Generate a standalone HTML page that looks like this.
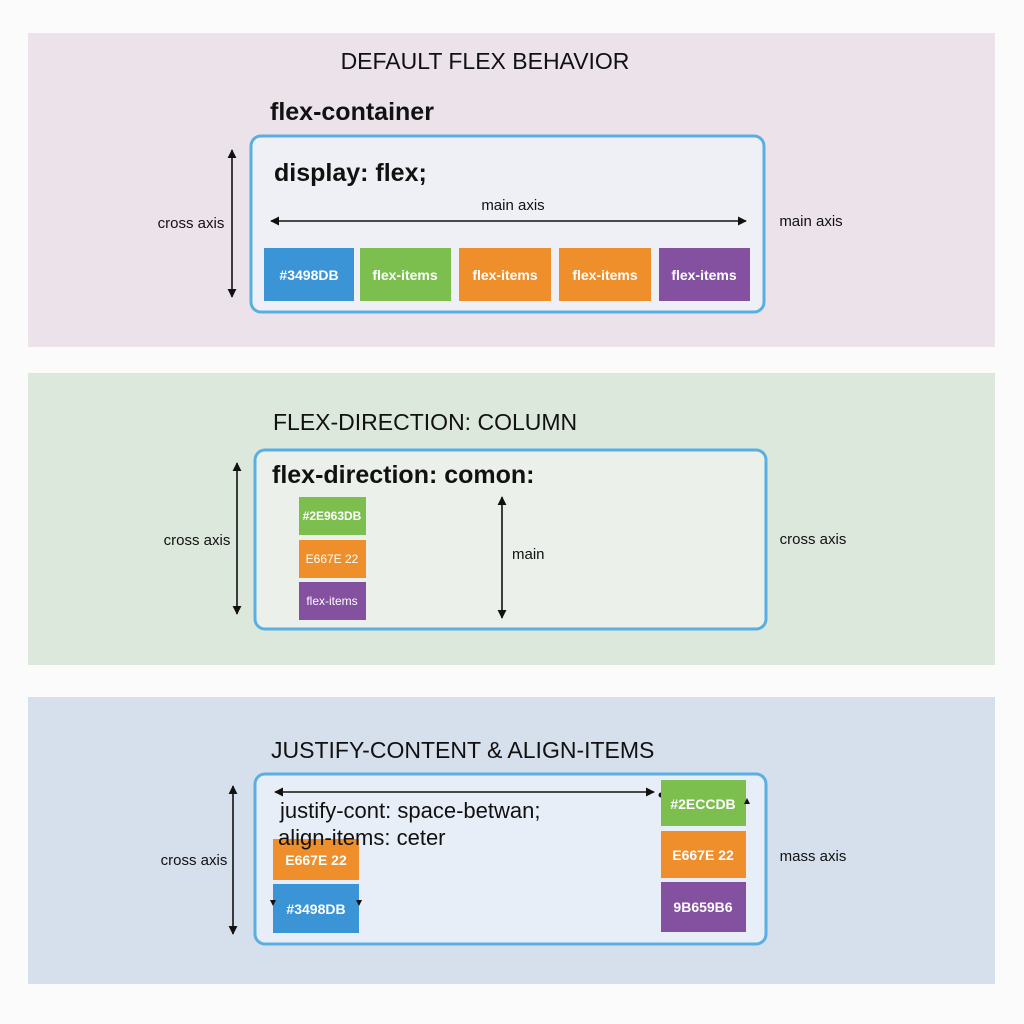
<!DOCTYPE html>
<html><head><meta charset="utf-8"><style>
html,body{margin:0;padding:0;background:#fbfbfb;}
svg{display:block;font-family:"Liberation Sans","DejaVu Sans",sans-serif;}
</style></head><body>
<svg width="1024" height="1024" viewBox="0 0 1024 1024" xmlns="http://www.w3.org/2000/svg">
<defs>
<marker id="ah" viewBox="0 0 10 10" refX="9" refY="5" markerWidth="9" markerHeight="9" orient="auto-start-reverse" markerUnits="userSpaceOnUse"><path d="M0,0 L10,5 L0,10 z" fill="#111"/></marker>
</defs>
<rect width="1024" height="1024" fill="#fbfbfb"/>
<!-- panel 1 -->
<rect x="28" y="33" width="967" height="314" fill="#ebe2ea"/>
<text x="485" y="69" font-size="23" text-anchor="middle" fill="#111">DEFAULT FLEX BEHAVIOR</text>
<text x="270" y="120" font-size="25" font-weight="bold" fill="#111">flex-container</text>
<rect x="251" y="136" width="513" height="176" rx="10" fill="#eef0f5" stroke="#5aafe2" stroke-width="3"/>
<text x="274" y="181" font-size="25" font-weight="bold" fill="#111">display: flex;</text>
<line x1="232" y1="150" x2="232" y2="297" stroke="#111" stroke-width="1.6" marker-start="url(#ah)" marker-end="url(#ah)"/>
<text x="191" y="228" font-size="15" text-anchor="middle" fill="#111">cross axis</text>
<line x1="271" y1="221" x2="746" y2="221" stroke="#111" stroke-width="1.6" marker-start="url(#ah)" marker-end="url(#ah)"/>
<text x="513" y="210" font-size="15" text-anchor="middle" fill="#111">main axis</text>
<text x="811" y="226" font-size="15" text-anchor="middle" fill="#111">main axis</text>
<rect x="264" y="248" width="90" height="53" fill="#3a94d6"/>
<rect x="360" y="248" width="91" height="53" fill="#7dbf4f"/>
<rect x="459" y="248" width="92" height="53" fill="#ef8f2b"/>
<rect x="559" y="248" width="92" height="53" fill="#ef8f2b"/>
<rect x="659" y="248" width="91" height="53" fill="#8451a1"/>
<g font-size="14" font-weight="bold" fill="#fff" text-anchor="middle">
<text x="309" y="280">#3498DB</text><text x="405" y="280">flex-items</text><text x="505" y="280">flex-items</text><text x="605" y="280">flex-items</text><text x="704" y="280">flex-items</text>
</g>
<!-- panel 2 -->
<rect x="28" y="373" width="967" height="292" fill="#dde8dc"/>
<text x="273" y="430" font-size="23" fill="#111">FLEX-DIRECTION: COLUMN</text>
<rect x="255" y="450" width="511" height="179" rx="10" fill="#ebf0eb" stroke="#5aafe2" stroke-width="3"/>
<text x="272" y="483" font-size="25" font-weight="bold" fill="#111">flex-direction: comon:</text>
<line x1="237" y1="463" x2="237" y2="614" stroke="#111" stroke-width="1.6" marker-start="url(#ah)" marker-end="url(#ah)"/>
<text x="197" y="545" font-size="15" text-anchor="middle" fill="#111">cross axis</text>
<line x1="502" y1="497" x2="502" y2="618" stroke="#111" stroke-width="1.6" marker-start="url(#ah)" marker-end="url(#ah)"/>
<text x="512" y="559" font-size="15" fill="#111">main</text>
<text x="813" y="544" font-size="15" text-anchor="middle" fill="#111">cross axis</text>
<rect x="299" y="497" width="67" height="38" fill="#7dbf4f"/>
<rect x="299" y="540" width="67" height="38" fill="#ef8f2b"/>
<rect x="299" y="582" width="67" height="38" fill="#8451a1"/>
<g font-size="12" fill="#fff" text-anchor="middle">
<text x="332" y="520" font-weight="bold">#2E963DB</text><text x="332" y="563">E667E 22</text><text x="332" y="605">flex-items</text>
</g>
<!-- panel 3 -->
<rect x="28" y="697" width="967" height="287" fill="#d6dfec"/>
<text x="271" y="758" font-size="23" fill="#111">JUSTIFY-CONTENT &amp; ALIGN-ITEMS</text>
<rect x="255" y="774" width="511" height="170" rx="10" fill="#e8eef7" stroke="#5aafe2" stroke-width="3"/>
<line x1="233" y1="786" x2="233" y2="934" stroke="#111" stroke-width="1.6" marker-start="url(#ah)" marker-end="url(#ah)"/>
<text x="194" y="865" font-size="15" text-anchor="middle" fill="#111">cross axis</text>
<text x="813" y="861" font-size="15" text-anchor="middle" fill="#111">mass axis</text>
<line x1="275" y1="792" x2="654" y2="792" stroke="#111" stroke-width="1.6" marker-start="url(#ah)" marker-end="url(#ah)"/>
<circle cx="661" cy="795" r="2.5" fill="#111"/>
<rect x="273" y="839" width="86" height="41" fill="#ef8f2b"/>
<rect x="273" y="884" width="86" height="49" fill="#3a94d6"/>
<rect x="661" y="780" width="85" height="46" fill="#7dbf4f"/>
<rect x="661" y="831" width="85" height="47" fill="#ef8f2b"/>
<rect x="661" y="882" width="85" height="50" fill="#8451a1"/>
<text x="280" y="818" font-size="22" fill="#111">justify-cont: space-betwan;</text>
<text x="278" y="845" font-size="22" fill="#111">align-items: ceter</text>
<g font-size="14" font-weight="bold" fill="#fff" text-anchor="middle">
<text x="316" y="865">E667E 22</text><text x="316" y="914">#3498DB</text>
<text x="703" y="809">#2ECCDB</text><text x="703" y="860">E667E 22</text><text x="703" y="912">9B659B6</text>
</g>
<path d="M270,900 l3,6 l3,-6z M356,900 l3,6 l3,-6z" fill="#111"/>
<path d="M744,804 l3,-6 l3,6z" fill="#111"/>
</svg>
</body></html>
